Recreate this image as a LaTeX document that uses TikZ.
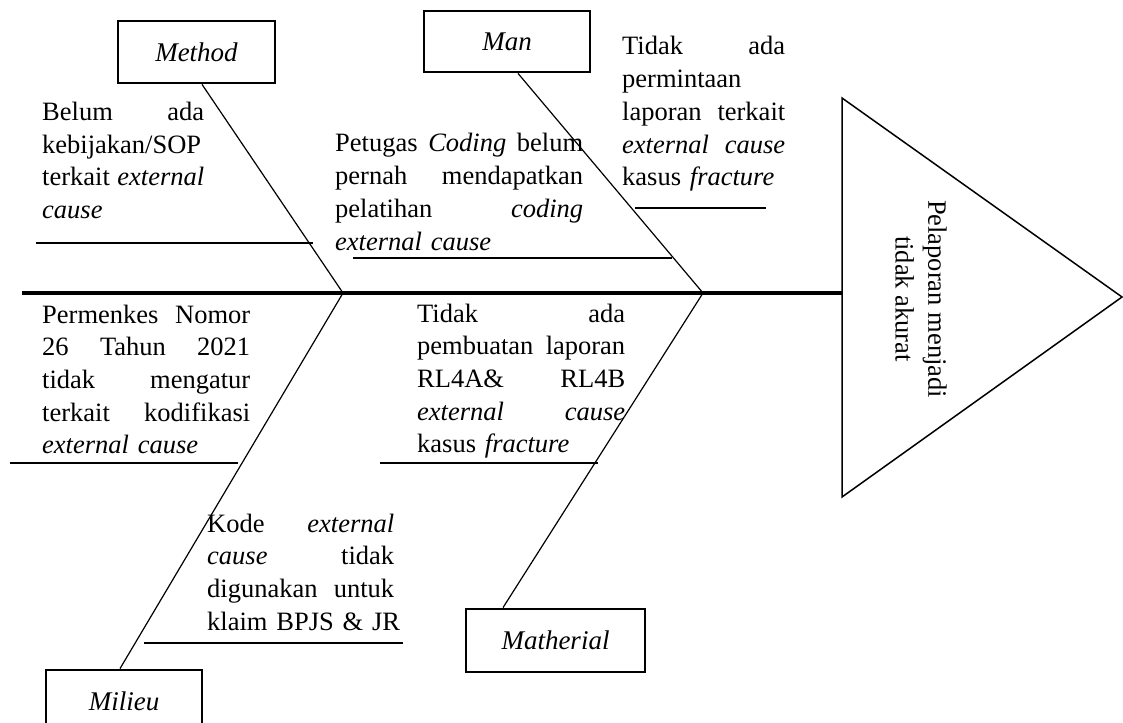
\documentclass[tikz,border=0pt]{standalone}
\usepackage{fontspec}
\setmainfont{Liberation Serif}
\begin{document}
\begin{tikzpicture}[x=1pt,y=-1pt,
  every node/.style={font=\fontsize{26.5}{32.7}\selectfont},
  catbox/.style={draw, line width=2.8pt, inner sep=0pt, font=\fontsize{27}{32}\selectfont\itshape},
  bone/.style={line width=1.2pt},
  subline/.style={line width=1.2pt},
  spine/.style={line width=4.5pt},
  headtri/.style={line width=1.5pt},
  causetxt/.style={inner sep=0pt, anchor=base west, align=left},
]
\useasboundingbox (0,0) rectangle (1123,722);
\clip (0,0) rectangle (1123,722);

% category boxes
\node[catbox, minimum width=157pt, minimum height=62pt] (method) at (196.5,52) {Method};
\node[catbox, minimum width=166pt, minimum height=61pt] (man) at (507,41.5) {Man};
\node[catbox, minimum width=179pt, minimum height=63pt] (matherial) at (555.5,640.5) {Matherial};
\node[catbox, minimum width=156pt, minimum height=62pt] (milieu) at (124,701) {Milieu};

% spine and head
\coordinate (tail) at (22,293);
\coordinate (head) at (842,293);
\coordinate (j1) at (343,293);
\coordinate (j2) at (703,293);
\coordinate (tA) at (842,98);
\coordinate (tB) at (1122,297);
\coordinate (tC) at (842,497);
\draw[spine] (tail) -- (head);
\draw[headtri] (tA) -- (tB) -- (tC) -- cycle;
\node[rotate=-90, align=center, inner sep=0pt] (effect) at (921,299) {Pelaporan menjadi\\tidak akurat};

% bones
\draw[bone] ([xshift=5.5pt]method.south) -- (j1);
\draw[bone] ([xshift=11pt]man.south) -- (j2);
\draw[bone] (j1) -- ([xshift=-4pt]milieu.north);
\draw[bone] (j2) -- ([xshift=-52.5pt]matherial.north);

% cause texts
\node[causetxt, text width=162pt] (c1) at (42,120.5) {Belum\hfill ada\\kebijakan/SOP\\terkait\hfill\textit{external}\\\textit{cause}};
\node[causetxt, text width=248pt] (c2) at (335,152) {Petugas\hfill\textit{Coding}\hfill belum\\pernah\hfill mendapatkan\\pelatihan\hfill\textit{coding}\\\textit{external cause}};
\node[causetxt, text width=163pt] (c3) at (622,55) {Tidak\hfill ada\\permintaan\\laporan\hfill terkait\\\textit{external}\hfill\textit{cause}\\kasus \textit{fracture}};
\node[causetxt, text width=208pt] (c4) at (42,323) {Permenkes\hfill Nomor\\26\hfill Tahun\hfill 2021\\tidak\hfill mengatur\\terkait\hfill kodifikasi\\\textit{external cause}};
\node[causetxt, text width=208pt] (c5) at (417,322) {Tidak\hfill ada\\pembuatan\hfill laporan\\RL4A\&\hfill RL4B\\\textit{external}\hfill\textit{cause}\\kasus \textit{fracture}};
\node[causetxt, text width=187pt] (c6) at (207,532) {Kode\hfill\textit{external}\\\textit{cause}\hfill tidak\\digunakan\hfill untuk\\\makebox[\linewidth][s]{klaim BPJS \& JR}};

% underlines
\draw[subline] (36,243) -- (313,243);
\draw[subline] (353,258) -- (672,258);
\draw[subline] (635,208) -- (766,208);
\draw[subline] (10,463) -- (238,463);
\draw[subline] (380,463) -- (598,463);
\draw[subline] (144,643) -- (403,643);
\end{tikzpicture}
\end{document}
